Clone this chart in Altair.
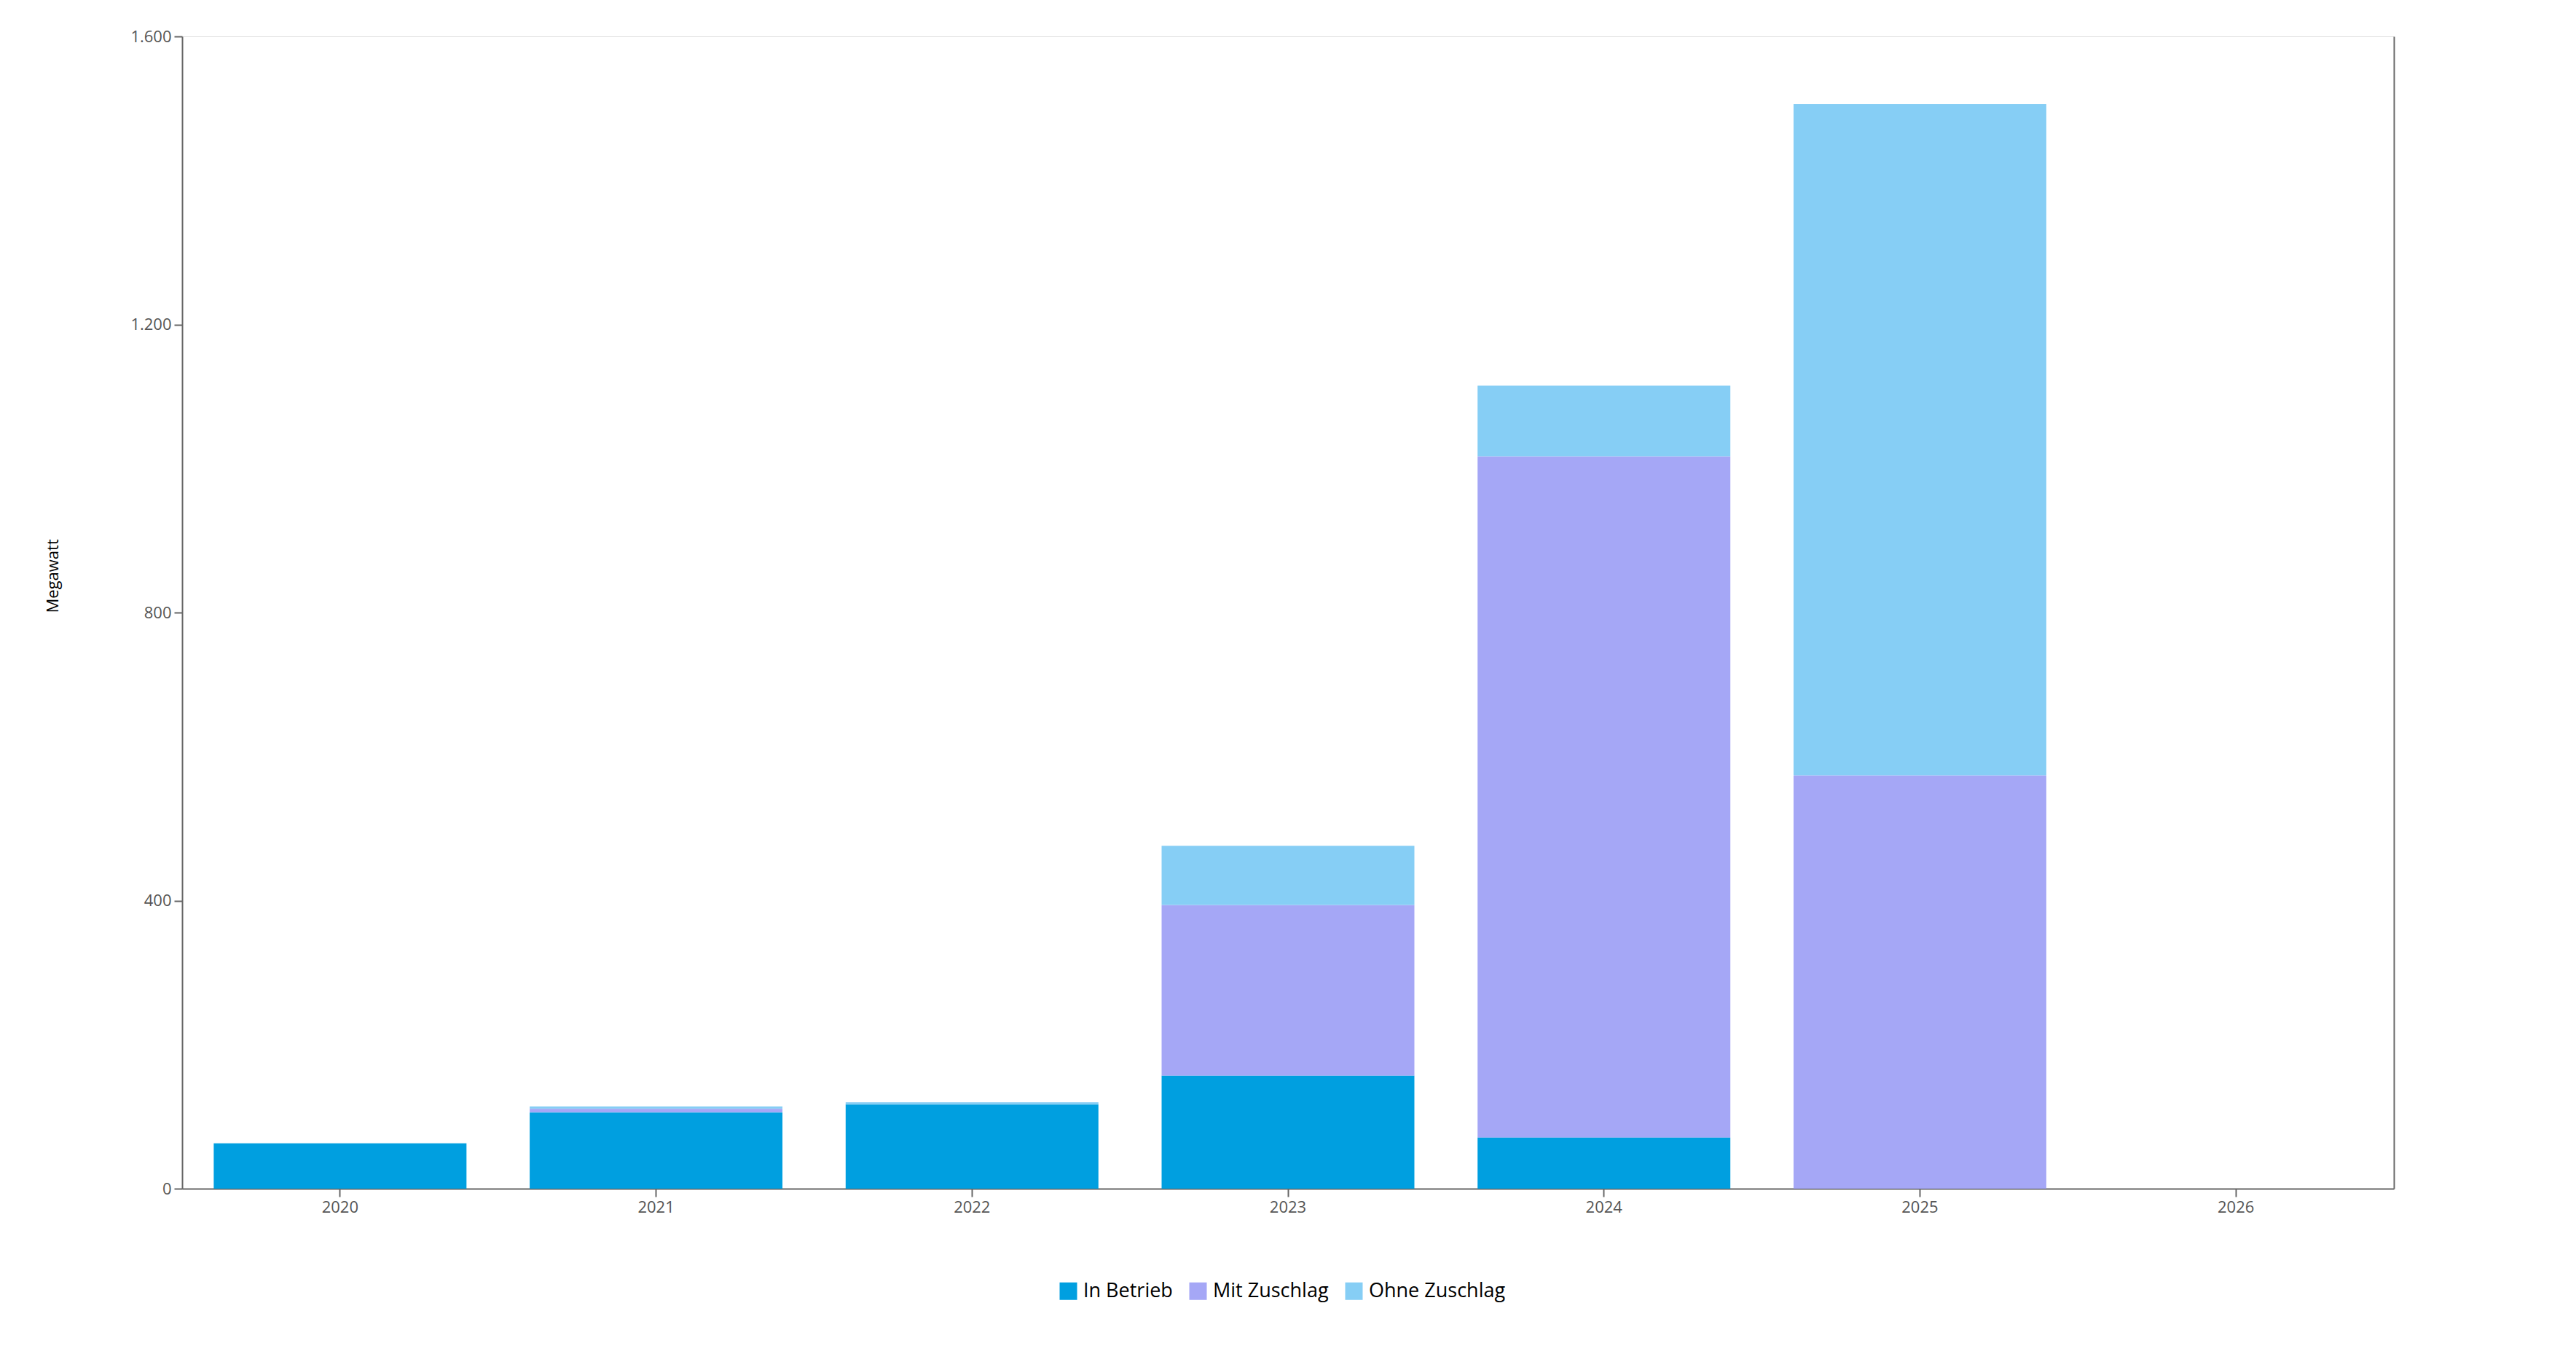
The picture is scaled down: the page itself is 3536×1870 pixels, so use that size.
import altair as alt
import pandas as pd

years = ["2020", "2021", "2022", "2023", "2024", "2025", "2026"]
series = ["In Betrieb", "Mit Zuschlag", "Ohne Zuschlag"]
in_betrieb = [63, 106, 117, 157, 71, 0, 0]
mit_zuschlag = [0, 5, 0, 237, 946, 574, 0]
ohne_zuschlag = [0, 3, 3, 82, 98, 932, 0]
colors = ["#009FE0", "#A5A7F6", "#86CEF5"]
y_ticks = [0, 400, 800, 1200, 1600]

rows = []
for i, y in enumerate(years):
    for k, (name, vals) in enumerate(zip(series, [in_betrieb, mit_zuschlag, ohne_zuschlag])):
        rows.append({"Jahr": y, "Status": name, "Megawatt": vals[i], "ord": k})
df = pd.DataFrame(rows)

FONT = "Open Sans"

x_enc = alt.X(
    "Jahr:N",
    scale=alt.Scale(domain=years, paddingInner=0.2, paddingOuter=0.1),
    axis=alt.Axis(
        title=None, labelAngle=0, labelFontSize=22, labelColor="#555555",
        labelFont=FONT, tickSize=11, tickColor="#666666", tickWidth=2,
        domainColor="#666666", domainWidth=2, labelPadding=4, grid=False,
    ),
)
y_scale = alt.Scale(domain=[0, 1600], nice=False)

bars = alt.Chart(df).mark_bar().encode(
    x=x_enc,
    y=alt.Y(
        "Megawatt:Q",
        scale=y_scale,
        stack="zero",
        axis=alt.Axis(
            title="Megawatt", values=y_ticks, grid=False,
            labelExpr="replace(format(datum.value, ','), ',', '.')",
            labelFontSize=22, labelColor="#555555", labelFont=FONT,
            tickSize=11, tickColor="#666666", tickWidth=2,
            domainColor="#666666", domainWidth=2, labelPadding=4,
            titleFontSize=22, titleFont=FONT, titleColor="#000000",
            titleFontWeight="normal", titleAngle=-90, titleAlign="left",
            titleBaseline="middle", titleX=-178, titleY=791,
        ),
    ),
    color=alt.Color(
        "Status:N",
        scale=alt.Scale(domain=series, range=colors),
        legend=alt.Legend(
            title=None, orient="none", direction="horizontal",
            legendX=1203, legendY=1709, symbolType="square",
            symbolSize=576, symbolStrokeWidth=0, labelFontSize=27,
            labelFont=FONT, labelColor="#000000", labelOffset=7,
            columnPadding=21, labelLimit=0,
        ),
    ),
    order=alt.Order("ord:Q", sort="ascending"),
)

right = alt.Chart(df).mark_bar(opacity=0).encode(
    x=alt.X("Jahr:N", scale=alt.Scale(domain=years)),
    y=alt.Y(
        "Megawatt:Q",
        scale=y_scale,
        axis=alt.Axis(
            orient="right", title=None, labels=False, ticks=False,
            grid=False, domainColor="#666666", domainWidth=2,
        ),
    ),
)

chart = (
    alt.layer(bars, right)
    .resolve_axis(y="independent")
    .properties(
        width=3036,
        height=1582,
        autosize=alt.AutoSizeParams(type="none"),
        padding={"left": 242, "top": 42, "right": 200, "bottom": 230},
    )
    .configure_view(stroke="#F0F0F0", strokeWidth=2)
    .configure(background="white")
)

chart.save("out.html", embed_options={"renderer": "svg", "actions": False})
